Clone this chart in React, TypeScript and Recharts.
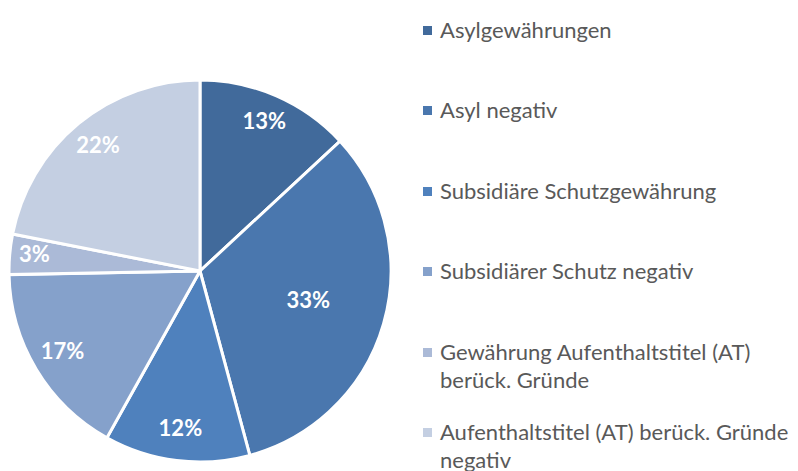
import React from 'react';
import { PieChart, Pie, Cell, Legend } from 'recharts';

const categories = [
  'Asylgewährungen',
  'Asyl negativ',
  'Subsidiäre Schutzgewährung',
  'Subsidiärer Schutz negativ',
  'Gewährung Aufenthaltstitel (AT) berück. Gründe',
  'Aufenthaltstitel (AT) berück. Gründe negativ',
];
const legendLines = [
  ['Asylgewährungen'],
  ['Asyl negativ'],
  ['Subsidiäre Schutzgewährung'],
  ['Subsidiärer Schutz negativ'],
  ['Gewährung Aufenthaltstitel (AT)', 'berück. Gründe'],
  ['Aufenthaltstitel (AT) berück. Gründe', 'negativ'],
];
const shares = [13.1, 32.7, 12.3, 16.6, 3.4, 21.9];
const colors = ['#416A9B', '#4A77AE', '#4F81BD', '#85A1CB', '#ABBAD7', '#C4CFE2'];

const data = categories.map((name, i) => ({ name, value: shares[i] }));

const FONT = 'Lato, "Open Sans", sans-serif';
const RAD = Math.PI / 180;

const renderLabel = (props: any) => {
  const { cx, cy, midAngle, outerRadius, percent } = props;
  const r = outerRadius * (percent > 0.3 ? 0.59 : percent < 0.05 ? 0.87 : 0.84);
  const x = cx + r * Math.cos(-midAngle * RAD);
  const y = cy + r * Math.sin(-midAngle * RAD) - 3;
  return (
    <text
      x={x}
      y={y}
      fill="#ffffff"
      textAnchor="middle"
      dominantBaseline="central"
      style={{ fontFamily: FONT, fontWeight: 700, fontSize: 22 }}
    >
      {`${Math.round(percent * 100)}%`}
    </text>
  );
};

const renderLegend = () => (
  <div style={{ fontFamily: FONT, fontSize: 22, color: '#595959' }}>
    {legendLines.map((lines, i) => (
      <div key={i} style={{ position: 'absolute', left: 0, top: 80.4 * i, width: 380 }}>
        {lines.map((ln, j) => (
          <div key={j} style={{ height: 28, lineHeight: '28px', position: 'relative', paddingLeft: 20, whiteSpace: 'nowrap' }}>
            {j === 0 && (
              <span
                style={{
                  position: 'absolute',
                  left: 3,
                  top: 10,
                  width: 9,
                  height: 9,
                  background: colors[i],
                }}
              />
            )}
            {ln}
          </div>
        ))}
      </div>
    ))}
  </div>
);

export default function App() {
  return (
    <div style={{ position: 'absolute', left: 0, top: 0, width: 798, height: 471, background: '#fff' }}>
      <PieChart width={798} height={471} margin={{ top: 0, right: 0, bottom: 0, left: 0 }}>
        <Pie
          data={data}
          dataKey="value"
          nameKey="name"
          cx={200}
          cy={271}
          outerRadius={191}
          startAngle={90}
          endAngle={-270}
          stroke="#ffffff"
          strokeWidth={3}
          label={renderLabel}
          labelLine={false}
          isAnimationActive={false}
        >
          {data.map((d, i) => (
            <Cell key={d.name} fill={colors[i]} />
          ))}
        </Pie>
        <Legend
          content={renderLegend}
          wrapperStyle={{ position: 'absolute', left: 420, top: 16, width: 378, height: 455 }}
        />
      </PieChart>
    </div>
  );
}
